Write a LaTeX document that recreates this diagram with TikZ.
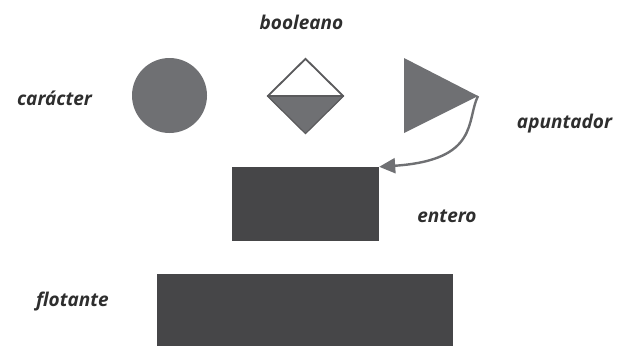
\documentclass[tikz,border=0pt]{standalone}
\usepackage{fontspec}
\setmainfont{Open Sans}
\usetikzlibrary{shapes.geometric,arrows.meta}
\definecolor{midgray}{HTML}{6F7073}
\definecolor{edgegray}{HTML}{5A5A5C}
\definecolor{darkbox}{HTML}{464648}
\definecolor{txt}{HTML}{2E2E2E}
\tikzset{
  lbl/.style={font=\fontsize{19}{22}\selectfont\itshape\bfseries, text=txt, inner sep=0pt},
  box/.style={fill=darkbox, draw=none, rectangle, inner sep=0pt}
}
\begin{document}
\begin{tikzpicture}[x=1pt,y=-1pt]
\useasboundingbox (0,0) rectangle (622,346);
% circle
\node[circle, fill=midgray, minimum size=75pt, inner sep=0pt] (car) at (169.5,95.5) {};
% diamond
\node[diamond, draw=edgegray, line width=1.2pt, fill=white, minimum width=75pt, minimum height=74pt, inner sep=0pt] (bool) at (305.5,96) {};
\fill[midgray] (bool.west) -- (bool.east) -- (bool.south) -- cycle;
\draw[edgegray, line width=1.2pt] (bool.west) -- (bool.north) -- (bool.east) -- (bool.south) -- cycle;
\draw[edgegray, line width=1.2pt] (bool.west) -- (bool.east);
% triangle
\coordinate (tA) at (404,58);
\coordinate (tB) at (404,133);
\coordinate (tip) at (478,96);
\fill[midgray] (tA) -- (tip) -- (tB) -- cycle;
% rectangles
\node[box, minimum width=147pt, minimum height=74pt] (ent) at (305.5,204) {};
\node[box, minimum width=296pt, minimum height=72pt, anchor=north west] (flo) at (157,274) {};
% arrow
\draw[midgray, line width=2.4pt, -{Triangle[length=16pt,width=15pt]}] (tip) .. controls (466,120) and (480,160) .. (ent.north east);
% labels
\node[lbl] (lb) at (301.5,22) {booleano};
\node[lbl] (lc) at (54.5,98) {carácter};
\node[lbl] (la) at (564.5,124) {apuntador};
\node[lbl] (le) at (447,216) {entero};
\node[lbl] (lf) at (72.5,302) {flotante};
\end{tikzpicture}
\end{document}
